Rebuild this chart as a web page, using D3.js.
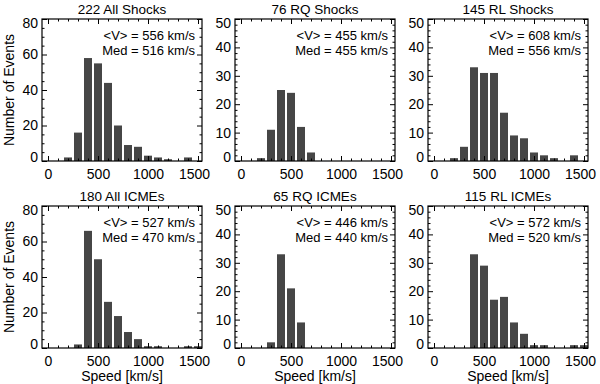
<!DOCTYPE html>
<html>
<head>
<meta charset="utf-8">
<script src="https://cdn.jsdelivr.net/npm/d3@7"></script>
<style>
  body { margin: 0; background: #fff; }
  text { font-family: "Liberation Sans", Arial, sans-serif; fill: #000; }
</style>
</head>
<body>
<div id="chart"></div>
<script>
var width = 600;
var height = 384;

// speed bins (bin centres, km/s)
var bins = [200, 300, 400, 500, 600, 700, 800, 900, 1000, 1100, 1200, 1300, 1400, 1500];

// counts per panel
var allShocks = [2, 16, 58, 55, 44, 20, 9, 8, 3, 2, 1, 0, 2, 0];
var rqShocks  = [1, 11, 25, 24, 12, 3, 0, 0, 0, 0, 0, 0, 0, 0];
var rlShocks  = [1, 5, 33, 31, 31, 17, 9, 8, 3, 2, 1, 0, 2, 0];
var allIcmes  = [0, 2, 66, 50, 26, 18, 9, 5, 1, 1, 0, 0, 1, 1];
var rqIcmes   = [0, 2, 33, 21, 9, 0, 0, 0, 0, 0, 0, 0, 0, 0];
var rlIcmes   = [0, 0, 33, 29, 17, 18, 9, 5, 1, 1, 0, 0, 1, 1];

var titles = ["222 All Shocks", "76 RQ Shocks", "145 RL Shocks",
              "180 All ICMEs", "65 RQ ICMEs", "115 RL ICMEs"];
var means   = [556, 455, 608, 527, 446, 572];
var medians = [516, 455, 556, 470, 440, 520];
var yMaxes  = [80, 50, 50, 80, 50, 50];
var xTicks  = [0, 500, 1000, 1500];

var series = [allShocks, rqShocks, rlShocks, allIcmes, rqIcmes, rlIcmes];

var svg = d3.select("#chart")
            .append("svg")
            .attr("width", width)
            .attr("height", height);

var lefts = [42, 235, 428];
var tops = [19, 206];
var pw = 160, ph = 142;

var x = d3.scaleLinear().domain([-60, 1540]).range([0, pw]);

series.forEach(function(counts, i) {
    var col = i % 3, row = Math.floor(i / 3);
    var yMax = yMaxes[i];
    var y = d3.scaleLinear().domain([0, yMax]).range([ph, 0]);
    var majorStep = yMax == 80 ? 20 : 10;
    var minorStep = yMax == 80 ? 5 : 2;

    var g = svg.append("g")
               .attr("transform", "translate(" + lefts[col] + "," + tops[row] + ")");

    // bars
    g.selectAll("rect.bar")
     .data(bins.map(function(b, k) { return {bin: b, n: counts[k]}; }).filter(function(d) { return d.n > 0; }))
     .enter().append("rect")
     .attr("class", "bar")
     .attr("x", function(d) { return x(d.bin - 40); })
     .attr("width", function(d) { return x(d.bin + 40) - x(d.bin - 40); })
     .attr("y", function(d) { return y(d.n); })
     .attr("height", function(d) { return y(0) - y(d.n); })
     .attr("fill", "#464646");

    var yMajor = d3.range(0, yMax + 1, majorStep);
    var yMinor = d3.range(0, yMax + 1, minorStep).filter(function(v) { return v % majorStep != 0; });
    var xMinor = d3.range(0, 1501, 100).filter(function(v) { return v % 500 != 0; });

    // bottom axis with labels
    var xAx = g.append("g").attr("transform", "translate(0," + ph + ")")
     .call(d3.axisBottom(x).tickValues(xTicks).tickSize(-5).tickPadding(8).tickFormat(d3.format("d")));
    xAx.selectAll(".tick text").filter(function(d) { return d == 1500; }).attr("dx", "-4");
    g.append("g").attr("transform", "translate(0," + ph + ")")
     .call(d3.axisBottom(x).tickValues(xMinor).tickSize(-2.5).tickFormat(""));
    // top mirror ticks
    g.append("g")
     .call(d3.axisTop(x).tickValues(xTicks).tickSize(-5).tickFormat(""));
    g.append("g")
     .call(d3.axisTop(x).tickValues(xMinor).tickSize(-2.5).tickFormat(""));
    // left axis with labels (end labels kept inside the frame height)
    var yAx = g.append("g")
     .call(d3.axisLeft(y).tickValues(yMajor).tickSize(-5).tickPadding(4));
    yAx.selectAll(".tick text").attr("dy", function(d) {
        if (d == 0) return "0.02em";
        if (d == yMax) return "0.6em";
        return "0.32em";
    });
    g.append("g")
     .call(d3.axisLeft(y).tickValues(yMinor).tickSize(-2.5).tickFormat(""));
    // right mirror ticks
    g.append("g").attr("transform", "translate(" + pw + ",0)")
     .call(d3.axisRight(y).tickValues(yMajor).tickSize(-5).tickFormat(""));
    g.append("g").attr("transform", "translate(" + pw + ",0)")
     .call(d3.axisRight(y).tickValues(yMinor).tickSize(-2.5).tickFormat(""));

    g.selectAll(".domain").remove();
    g.selectAll(".tick line").attr("stroke", "#000").attr("stroke-width", 1);
    g.selectAll(".tick text").style("font-family", "Liberation Sans, Arial, sans-serif")
     .style("font-size", "14px").attr("fill", "#000");

    // frame
    g.append("rect")
     .attr("width", pw).attr("height", ph)
     .attr("fill", "none").attr("stroke", "#000").attr("stroke-width", 1.2);

    // title
    g.append("text")
     .attr("x", pw / 2).attr("y", -5)
     .attr("text-anchor", "middle")
     .style("font-size", "13.5px")
     .text(titles[i]);

    // stats
    g.append("text")
     .attr("x", pw - 7).attr("y", 20.6)
     .attr("text-anchor", "end")
     .style("font-size", "13px")
     .text("<V> = " + means[i] + " km/s");
    g.append("text")
     .attr("x", pw - 7).attr("y", 36.3)
     .attr("text-anchor", "end")
     .style("font-size", "13px")
     .text("Med = " + medians[i] + " km/s");

    if (col == 0) {
        g.append("text")
         .attr("transform", "translate(" + (14 - lefts[col]) + "," + (ph / 2) + ") rotate(-90)")
         .attr("text-anchor", "middle")
         .style("font-size", "14px")
         .text("Number of Events");
    }
    if (row == 1) {
        g.append("text")
         .attr("x", pw / 2).attr("y", ph + 33)
         .attr("text-anchor", "middle")
         .style("font-size", "14px")
         .text("Speed [km/s]");
    }
});
</script>
</body>
</html>
